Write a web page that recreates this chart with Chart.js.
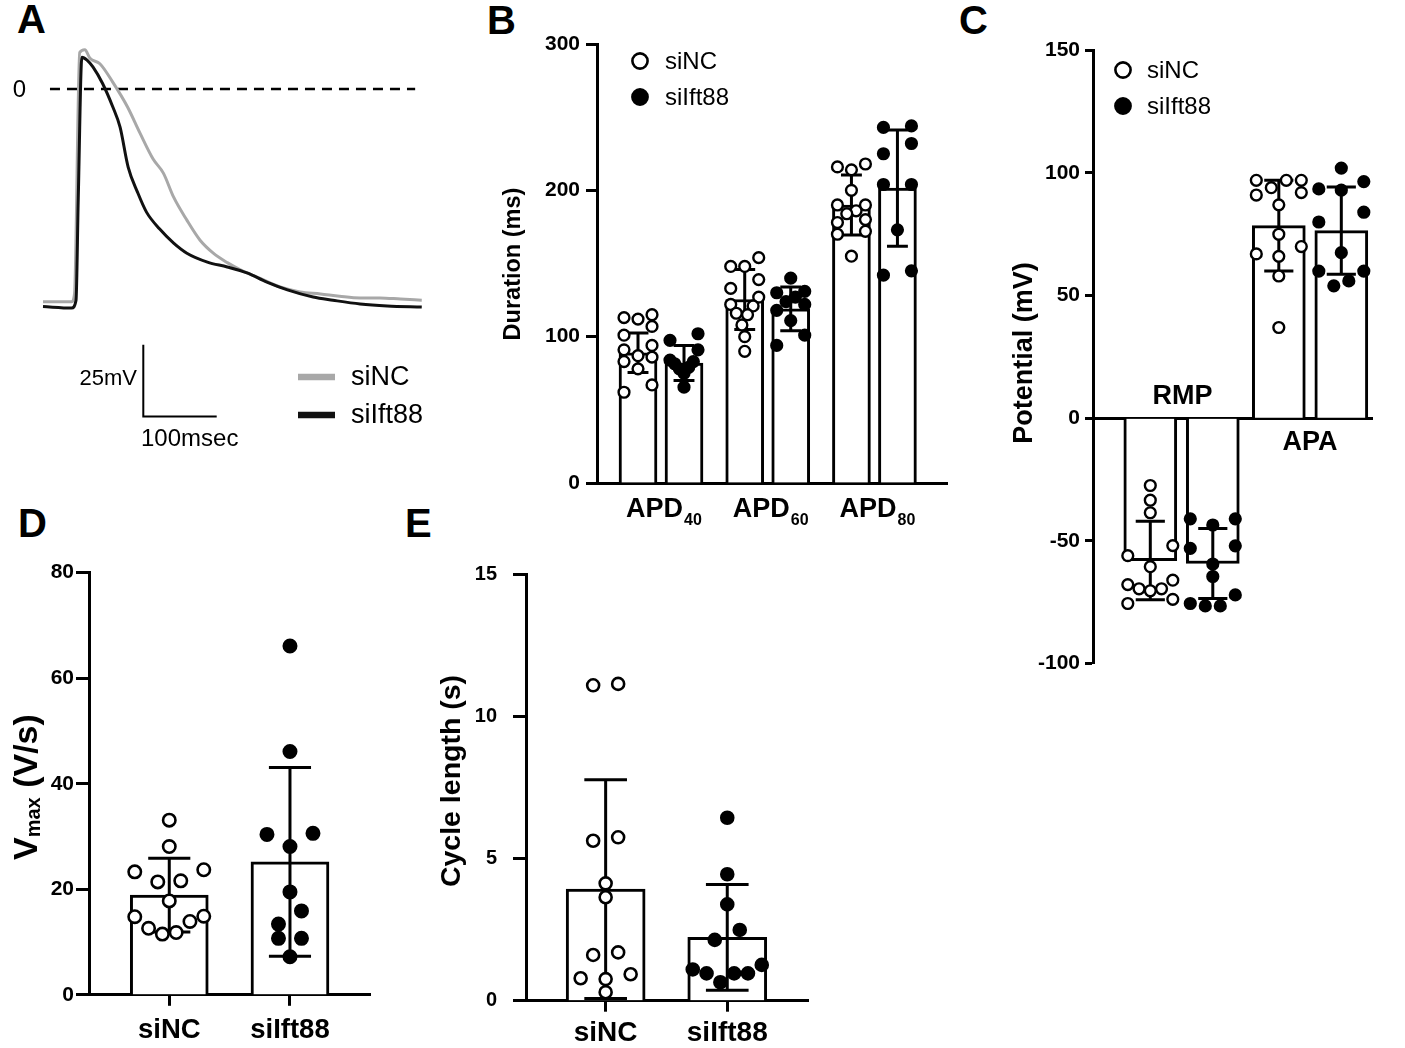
<!DOCTYPE html>
<html>
<head>
<meta charset="utf-8">
<title>siNC vs siIft88 electrophysiology</title>
<script src="https://cdn.jsdelivr.net/npm/chart.js@4.4.1/dist/chart.umd.min.js"></script>
<style>
  html, body { margin: 0; padding: 0; background: #fff; }
  body { position: relative; width: 1405px; height: 1048px; overflow: hidden; font-family: "Liberation Sans", Arial, sans-serif; }
  canvas { position: absolute; }
  .panel-letter { position: absolute; font-weight: bold; font-size: 40px; line-height: 40px; color: #000; }
</style>
</head>
<body>
<div class="panel-letter" style="left:17px;top:-1px">A</div>
<div class="panel-letter" style="left:487px;top:0px">B</div>
<div class="panel-letter" style="left:959px;top:0px">C</div>
<div class="panel-letter" style="left:18px;top:503px">D</div>
<div class="panel-letter" style="left:405px;top:503px">E</div>
<canvas id="chartA"></canvas>
<canvas id="chartB"></canvas>
<canvas id="chartC"></canvas>
<canvas id="chartD"></canvas>
<canvas id="chartE"></canvas>
<script>
// ===================== DATA =====================
// Panel A: representative action potentials (time in ms, potential in mV)
const apTime_siNC   = [0, 39, 43, 50, 57, 64, 77.5, 95, 115, 132, 150, 164, 178, 196, 214, 232, 251, 269, 295, 323, 350, 378, 404, 432, 459, 487, 516];
const apMv_siNC     = [-74.1, -74.1, -71.2, 12.7, 13.7, 10.7, 8.8, 2.4, -6.2, -15.3, -24.4, -29.3, -37.7, -45.7, -52.7, -57.2, -60.5, -63, -65.9, -69, -70.7, -71.4, -72.2, -72.8, -72.8, -73.2, -73.6];
const apTime_siIft88 = [0, 39, 45, 48, 53, 60, 68, 81, 95, 105, 116, 129, 141, 159, 178, 196, 224, 251, 278, 305, 333, 368, 395, 432, 469, 516];
const apMv_siIft88   = [-75.8, -76.3, -73.6, -38.6, 11.1, 10.1, 7.7, 2.0, -6.2, -13.3, -27.2, -36.1, -42.9, -48.8, -53.7, -57.2, -60.3, -62, -64.1, -67.3, -70, -72.5, -73.6, -74.9, -75.6, -76];
const traceLabels = ['siNC', 'siIft88'];
const zeroLineSpanMs = [9.5, 507];
const scaleBarMs = 100, scaleBarMv = 25;

// Panel B: action potential durations (ms)
const apdCategories = ['APD40', 'APD60', 'APD80'];
const apdMean_siNC   = [89, 125.4, 190];
const apdSd_siNC     = [13.5, 20.5, 20.5];
const apdMean_siIft88 = [82, 119, 201.5];
const apdSd_siIft88   = [12, 15, 39.7];
const apdPoints_siNC = [
  [115, 113, 112, 107, 101, 94, 91, 87, 86, 83, 78, 67, 62],
  [154, 148, 148, 139, 133, 127, 122, 121, 116, 115, 108, 100, 90],
  [218, 216, 214, 200, 190, 190, 186, 184, 180, 178, 172, 170, 155]
];
const apdPoints_siIft88 = [
  [102, 97.5, 91, 84, 83, 81.5, 79, 78, 75, 65.5],
  [140, 131, 130, 127, 124, 122, 118, 111, 101, 94],
  [244, 243, 232, 225, 204, 204, 173, 145, 142]
];
const apdTicks = [0, 100, 200, 300];

// Panel C: resting membrane potential and action potential amplitude (mV)
const potCategories = ['RMP', 'APA'];
const potMean_siNC   = [-58, 78.5];
const potSd_siNC     = [16, 18.5];
const potMean_siIft88 = [-59.2, 76.5];
const potSd_siIft88   = [14.3, 17.8];
const potPoints_siNC = [
  [-27.4, -33.4, -38.5, -51.9, -56, -60.5, -66, -67.8, -69.5, -69.5, -70.3, -73.8, -75.5],
  [97, 97, 97, 94, 92, 91, 87, 75, 70, 67, 66, 58, 37]
];
const potPoints_siIft88 = [
  [-41, -41, -43.5, -52, -53, -59.4, -64.5, -72, -75.5, -76.5, -76.5],
  [102, 96.5, 93.5, 93, 84, 80, 67.5, 60, 60, 56, 54]
];
const potTicks = [-100, -50, 0, 50, 100, 150];

// Panel D: maximal upstroke velocity (V/s)
const groupLabels = ['siNC', 'siIft88'];
const vmaxMean = [18.9, 25.2];
const vmaxSd   = [7.0, 17.9];
const vmax_siNC   = [33.1, 28.1, 23.7, 23.3, 21.6, 21.4, 17.8, 14.9, 14.8, 13.9, 12.6, 11.8, 11.5];
const vmax_siIft88 = [66.1, 46.1, 30.6, 30.4, 28.1, 19.5, 15.9, 13.4, 10.7, 10.7, 7.2];
const vmaxTicks = [0, 20, 40, 60, 80];

// Panel E: cycle length (s)
const cycleMean = [3.93, 2.23];
const cycleSd   = [3.85, 1.86];
const cycle_siNC   = [11.15, 11.1, 5.75, 5.63, 4.13, 3.64, 1.70, 1.61, 0.93, 0.79, 0.76, 0.3];
const cycle_siIft88 = [6.44, 4.45, 3.39, 2.49, 2.14, 1.26, 1.1, 0.96, 0.96, 0.96, 0.65];
const cycleTicks = [0, 5, 10, 15];

// ===================== RENDERING =====================
const FONT = '"Liberation Sans", Arial, sans-serif';
Chart.defaults.font.family = FONT;
Chart.defaults.color = '#000';

function placeCanvas(id, box) {
  const c = document.getElementById(id);
  c.width = box.w; c.height = box.h;
  c.style.left = box.left + 'px'; c.style.top = box.top + 'px';
  c.style.width = box.w + 'px'; c.style.height = box.h + 'px';
  return c;
}

// Prism-like scatter layout: points binned by value, spread symmetrically in each bin
function swarmOffsets(values, pxPerUnit, d, sMax, maxSpan) {
  const order = values.map((v, i) => i).sort((a, b) => values[b] - values[a]);
  const bins = [];
  order.forEach(i => {
    const cur = bins[bins.length - 1];
    if (cur && (values[cur[0]] - values[i]) * pxPerUnit <= 0.88 * d) cur.push(i);
    else bins.push([i]);
  });
  const layout = bin => {
    const n = bin.length;
    const s = n > 1 ? Math.min(sMax, maxSpan / (n - 1)) : 0;
    const slots = Array.from({ length: n }, (_, k) => (k - (n - 1) / 2) * s);
    const seq = []; let lo = 0, hi = n - 1;
    while (lo <= hi) { seq.push(slots[hi--]); if (lo <= hi) seq.push(slots[lo++]); }
    return bin.map((id, j) => ({ id, dx: seq[j], py: values[id] * pxPerUnit }));
  };
  const placed = [];
  bins.forEach(b => {
    let cur = b;
    for (;;) {
      const pts = layout(cur);
      const all = placed.flat();
      const hit = pts.some(p => all.some(q => Math.hypot(p.dx - q.dx, p.py - q.py) < 0.85 * d));
      if (hit && placed.length) { const prev = placed.pop(); cur = prev.map(p => p.id).concat(cur); continue; }
      placed.push(pts); break;
    }
  });
  const off = new Array(values.length).fill(0);
  placed.flat().forEach(p => { off[p.id] = p.dx; });
  return off;
}

const errorBarPlugin = {
  id: 'errbars',
  afterDatasetDraw(chart, args, opts) {
    const ds = chart.data.datasets[args.index];
    if (!ds.sd) return;
    const ctx = chart.ctx, y = chart.scales.y;
    ctx.save();
    ctx.strokeStyle = '#000'; ctx.lineWidth = opts.lineWidth || 3; ctx.lineCap = 'butt';
    args.meta.data.forEach((bar, i) => {
      const m = ds.data[i].y, s = ds.sd[i];
      const yt = y.getPixelForValue(m + s), yb = y.getPixelForValue(m - s);
      const cw = bar.width * (opts.capRatio || 0.55) / 2;
      ctx.beginPath();
      ctx.moveTo(bar.x, yt); ctx.lineTo(bar.x, yb);
      ctx.moveTo(bar.x - cw, yt); ctx.lineTo(bar.x + cw, yt);
      ctx.moveTo(bar.x - cw, yb); ctx.lineTo(bar.x + cw, yb);
      ctx.stroke();
    });
    ctx.restore();
  }
};

function drawLegend(ctx, box, items, cx, textX, fontSize) {
  ctx.save();
  ctx.translate(-box.left, -box.top);
  items.forEach(it => {
    ctx.beginPath();
    ctx.arc(cx, it.y, 7.6, 0, Math.PI * 2);
    ctx.fillStyle = it.filled ? '#000' : '#fff';
    ctx.fill();
    ctx.lineWidth = 2.6; ctx.strokeStyle = '#000'; ctx.stroke();
    ctx.fillStyle = '#000';
    ctx.font = fontSize + 'px ' + FONT;
    ctx.textAlign = 'left'; ctx.textBaseline = 'middle';
    ctx.fillText(it.label, textX, it.y + 1);
  });
  ctx.restore();
}

function rotatedText(ctx, box, text, x, y, size) {
  ctx.save();
  ctx.translate(x - box.left, y - box.top);
  ctx.rotate(-Math.PI / 2);
  ctx.font = 'bold ' + size + 'px ' + FONT;
  ctx.fillStyle = '#000'; ctx.textAlign = 'center'; ctx.textBaseline = 'middle';
  ctx.fillText(text, 0, 0);
  ctx.restore();
}

function buildBarPanel(p) {
  placeCanvas(p.id, p.box);
  const areaW = p.area.x1 - p.area.x0, areaH = p.area.y1 - p.area.y0;
  const pxPerX = areaW / (p.xRange[1] - p.xRange[0]);
  const pxPerY = areaH / (p.yRange[1] - p.yRange[0]);
  const nBars = p.bars.length;
  const datasets = [];
  p.bars.forEach((b, bi) => {
    datasets.push({
      type: 'bar', label: b.label,
      data: b.means.map((m, ci) => ({ x: ci, y: m })), sd: b.sds,
      backgroundColor: '#fff', borderColor: '#000', borderWidth: 3, borderSkipped: 'start',
      barThickness: p.barChunk, maxBarThickness: p.barWidth, order: 3, clip: false
    });
  });
  const d = 2 * p.pt.r + p.pt.bw;
  p.points.forEach(s => {
    const barOff = (s.bar - (nBars - 1) / 2) * p.barChunk;
    const data = [];
    s.groups.forEach((vals, ci) => {
      if (!vals || !vals.length) return;
      const offs = swarmOffsets(vals, pxPerY, d, p.pt.sMax, p.pt.maxSpan);
      vals.forEach((v, k) => data.push({ x: ci + (barOff + offs[k]) / pxPerX, y: v }));
    });
    datasets.push({
      type: 'scatter', label: s.label, data,
      pointRadius: p.pt.r, pointBorderWidth: p.pt.bw, pointBorderColor: '#000',
      pointBackgroundColor: s.filled ? '#000' : '#fff', pointHoverRadius: p.pt.r,
      showLine: false, order: 1, clip: false
    });
  });
  const ticksY = p.yTicks;
  return new Chart(document.getElementById(p.id), {
    type: 'bar',
    data: { datasets },
    options: {
      responsive: false, animation: false, events: [],
      layout: { padding: {
        left: 0, right: p.box.left + p.box.w - p.area.x1, top: p.area.y0 - p.box.top,
        bottom: p.centerAxis ? (p.box.top + p.box.h - p.area.y1) : 0 } },
      plugins: { legend: { display: false }, tooltip: { enabled: false },
                 errbars: { capRatio: p.capRatio, lineWidth: 3 } },
      scales: {
        x: {
          type: 'linear', min: p.xRange[0], max: p.xRange[1], offset: false,
          position: p.centerAxis ? { y: 0 } : 'bottom',
          afterBuildTicks: s => { s.ticks = p.categories.map((c, i) => ({ value: i })); },
          afterFit: s => { if (!p.centerAxis) s.height = p.box.top + p.box.h - p.area.y1; },
          ticks: { display: !!p.xLabels, autoSkip: false, maxRotation: 0, minRotation: 0,
                   padding: p.xLabelPadding || 0, color: '#000',
                   font: { size: p.xLabelSize || 27, weight: 'bold' },
                   callback: (v, i) => p.categories[i] },
          grid: { display: true, offset: false, drawOnChartArea: false, drawTicks: !!p.xTickMarks,
                  tickLength: 11, tickWidth: 3, tickColor: '#000' },
          border: { display: true, color: '#000', width: 3 }
        },
        y: {
          type: 'linear', min: p.yRange[0], max: p.yRange[1], position: 'left',
          afterFit: s => { s.width = p.area.x0 - p.box.left; },
          afterBuildTicks: s => { s.ticks = ticksY.map(v => ({ value: v })); },
          ticks: { padding: p.yTickPadding, color: '#000', font: { size: p.yTickSize, weight: 'bold' } },
          grid: { display: true, drawOnChartArea: false, drawTicks: true, tickLength: p.yTickLength,
                  tickWidth: 3, tickColor: '#000' },
          border: { display: true, color: '#000', width: 3 }
        }
      }
    },
    plugins: [errorBarPlugin, { id: 'panelText', afterDraw: chart => p.draw(chart) }]
  });
}

// ---------- Panel A ----------
(function () {
  const box = { left: 0, top: 0, w: 470, h: 460 };
  placeCanvas('chartA', box);
  const xy = (t, v) => t.map((tt, i) => ({ x: tt, y: v[i] }));
  new Chart(document.getElementById('chartA'), {
    type: 'line',
    data: { datasets: [
      { label: traceLabels[1], data: xy(apTime_siIft88, apMv_siIft88), borderColor: '#111', borderWidth: 3,
        pointRadius: 0, cubicInterpolationMode: 'monotone', order: 0, clip: false },
      { label: traceLabels[0], data: xy(apTime_siNC, apMv_siNC), borderColor: '#a8a8a8', borderWidth: 3,
        pointRadius: 0, cubicInterpolationMode: 'monotone', order: 1, clip: false },
      { label: '0 mV', data: zeroLineSpanMs.map(t => ({ x: t, y: 0 })), borderColor: '#000', borderWidth: 2.5,
        borderDash: [10, 7], pointRadius: 0, order: 2, clip: false }
    ] },
    options: {
      responsive: false, animation: false, events: [], parsing: true,
      layout: { padding: { left: 43, right: 40.9, top: 31.6, bottom: 127.05 } },
      plugins: { legend: { display: false }, tooltip: { enabled: false } },
      scales: {
        x: { type: 'linear', display: false, min: 0, max: 526 },
        y: { type: 'linear', display: false, min: -85, max: 20 }
      }
    },
    plugins: [{ id: 'panelA', afterDraw(chart) {
      const { ctx, scales: { x, y } } = chart;
      ctx.save();
      ctx.fillStyle = '#000';
      ctx.font = '24px ' + FONT; ctx.textAlign = 'center'; ctx.textBaseline = 'middle';
      ctx.fillText('0', 19.5, y.getPixelForValue(0) + 1);
      // scale bars
      const hLen = x.getPixelForValue(scaleBarMs) - x.getPixelForValue(0);
      const vLen = y.getPixelForValue(0) - y.getPixelForValue(scaleBarMv);
      const cx = 143.3, cy = 416.5;
      ctx.strokeStyle = '#000'; ctx.lineWidth = 2;
      ctx.beginPath(); ctx.moveTo(cx, cy - vLen); ctx.lineTo(cx, cy); ctx.lineTo(cx + hLen, cy); ctx.stroke();
      ctx.font = '22px ' + FONT; ctx.textAlign = 'right';
      ctx.fillText(scaleBarMv + 'mV', 137, 379);
      ctx.font = '24px ' + FONT; ctx.textAlign = 'left';
      ctx.fillText(scaleBarMs + 'msec', 141, 439);
      // legend
      const leg = [{ c: '#a8a8a8', y: 377, t: traceLabels[0] }, { c: '#111', y: 415, t: traceLabels[1] }];
      leg.forEach(l => {
        ctx.strokeStyle = l.c; ctx.lineWidth = 6.5;
        ctx.beginPath(); ctx.moveTo(298, l.y); ctx.lineTo(335, l.y); ctx.stroke();
        ctx.fillStyle = '#000'; ctx.font = '27px ' + FONT; ctx.textAlign = 'left'; ctx.textBaseline = 'middle';
        ctx.fillText(l.t, 351, l.y + 1);
      });
      ctx.restore();
    } }]
  });
})();

// ---------- Panel B ----------
(function () {
  const box = { left: 480, top: 0, w: 480, h: 540 };
  buildBarPanel({
    id: 'chartB', box, area: { x0: 597, y0: 44, x1: 947, y1: 483 },
    xRange: [-0.5998, 2.680], yRange: [0, 300], yTicks: apdTicks,
    yTickSize: 21, yTickPadding: 6, yTickLength: 11,
    categories: apdCategories, xLabels: false, xTickMarks: false,
    barWidth: 38, barChunk: 46, capRatio: 0.55,
    bars: [{ label: 'siNC', means: apdMean_siNC, sds: apdSd_siNC },
           { label: 'siIft88', means: apdMean_siIft88, sds: apdSd_siIft88 }],
    points: [{ label: 'siNC', filled: false, bar: 0, groups: apdPoints_siNC },
             { label: 'siIft88', filled: true, bar: 1, groups: apdPoints_siIft88 }],
    pt: { r: 5.4, bw: 2.4, sMax: 28, maxSpan: 28 },
    draw(chart) {
      const ctx = chart.ctx, x = chart.scales.x;
      rotatedText(ctx, box, 'Duration (ms)', 514, 264, 23.5);
      ctx.save();
      ctx.fillStyle = '#000'; ctx.textAlign = 'left'; ctx.textBaseline = 'alphabetic';
      const baseY = 517 - box.top;
      apdCategories.forEach((lab, i) => {
        const m = lab.match(/^(\D+)(\d+)$/);
        ctx.font = 'bold 27px ' + FONT; const wm = ctx.measureText(m[1]).width;
        ctx.font = 'bold 16px ' + FONT; const ws = ctx.measureText(m[2]).width;
        const start = x.getPixelForValue(i) + 3 - (wm + ws + 1) / 2;
        ctx.font = 'bold 27px ' + FONT; ctx.fillText(m[1], start, baseY);
        ctx.font = 'bold 16px ' + FONT; ctx.fillText(m[2], start + wm + 1, baseY + 8);
      });
      ctx.restore();
      drawLegend(ctx, box, [{ label: 'siNC', y: 61, filled: false }, { label: 'siIft88', y: 97, filled: true }], 640, 665, 24);
    }
  });
})();

// ---------- Panel C ----------
(function () {
  const box = { left: 1000, top: 0, w: 405, h: 700 };
  buildBarPanel({
    id: 'chartC', box, area: { x0: 1093, y0: 50.3, x1: 1372, y1: 663.6 }, centerAxis: true,
    xRange: [-0.689, 1.482], yRange: [-100, 150], yTicks: potTicks,
    yTickSize: 21, yTickPadding: 5, yTickLength: 8,
    categories: potCategories, xLabels: false, xTickMarks: false,
    barWidth: 53, barChunk: 62.5, capRatio: 0.55,
    bars: [{ label: 'siNC', means: potMean_siNC, sds: potSd_siNC },
           { label: 'siIft88', means: potMean_siIft88, sds: potSd_siIft88 }],
    points: [{ label: 'siNC', filled: false, bar: 0, groups: potPoints_siNC },
             { label: 'siIft88', filled: true, bar: 1, groups: potPoints_siIft88 }],
    pt: { r: 5.4, bw: 2.4, sMax: 45, maxSpan: 45 },
    draw(chart) {
      const ctx = chart.ctx, x = chart.scales.x;
      rotatedText(ctx, box, 'Potential (mV)', 1025, 353, 27);
      ctx.save();
      ctx.fillStyle = '#000'; ctx.font = 'bold 27px ' + FONT; ctx.textAlign = 'center'; ctx.textBaseline = 'middle';
      ctx.fillText(potCategories[0], x.getPixelForValue(0) + 1, 397 - box.top);
      ctx.fillText(potCategories[1], x.getPixelForValue(1), 443 - box.top);
      ctx.restore();
      drawLegend(ctx, box, [{ label: 'siNC', y: 70, filled: false }, { label: 'siIft88', y: 106, filled: true }], 1123, 1147, 24);
    }
  });
})();

// ---------- Panel D ----------
(function () {
  const box = { left: 0, top: 500, w: 410, h: 548 };
  buildBarPanel({
    id: 'chartD', box, area: { x0: 89, y0: 572.7, x1: 370, y1: 994.8 },
    xRange: [-0.665, 1.663], yRange: [0, 80], yTicks: vmaxTicks,
    yTickSize: 21, yTickPadding: 2, yTickLength: 13,
    categories: groupLabels, xLabels: true, xTickMarks: true, xLabelSize: 27.5, xLabelPadding: 8,
    barWidth: 78, barChunk: 78, capRatio: 0.54,
    bars: [{ label: 'Vmax', means: vmaxMean, sds: vmaxSd }],
    points: [{ label: 'siNC', filled: false, bar: 0, groups: [vmax_siNC, []] },
             { label: 'siIft88', filled: true, bar: 0, groups: [[], vmax_siIft88] }],
    pt: { r: 6.2, bw: 2.6, sMax: 23, maxSpan: 69 },
    draw(chart) {
      const ctx = chart.ctx;
      ctx.save();
      ctx.translate(37 - box.left, 860 - box.top);
      ctx.rotate(-Math.PI / 2);
      ctx.fillStyle = '#000'; ctx.textAlign = 'left'; ctx.textBaseline = 'alphabetic';
      ctx.font = 'bold 34px ' + FONT; ctx.fillText('V', 0, 0);
      let w = ctx.measureText('V').width;
      ctx.font = 'bold 20px ' + FONT; ctx.fillText('max', w, 3);
      w += ctx.measureText('max').width;
      ctx.font = 'bold 34px ' + FONT; ctx.fillText(' (V/s)', w, 0);
      ctx.restore();
    }
  });
})();

// ---------- Panel E ----------
(function () {
  const box = { left: 420, top: 500, w: 420, h: 548 };
  buildBarPanel({
    id: 'chartE', box, area: { x0: 526, y0: 574.5, x1: 808, y1: 1000.7 },
    xRange: [-0.655, 1.664], yRange: [0, 15], yTicks: cycleTicks,
    yTickSize: 20, yTickPadding: 16, yTickLength: 13,
    categories: groupLabels, xLabels: true, xTickMarks: true, xLabelSize: 28, xLabelPadding: 4.5,
    barWidth: 79, barChunk: 79, capRatio: 0.54,
    bars: [{ label: 'Cycle length', means: cycleMean, sds: cycleSd }],
    points: [{ label: 'siNC', filled: false, bar: 0, groups: [cycle_siNC, []] },
             { label: 'siIft88', filled: true, bar: 0, groups: [[], cycle_siIft88] }],
    pt: { r: 6.0, bw: 2.6, sMax: 25, maxSpan: 69 },
    draw(chart) {
      rotatedText(chart.ctx, box, 'Cycle length (s)', 452, 781, 28.5);
    }
  });
})();
</script>
</body>
</html>
